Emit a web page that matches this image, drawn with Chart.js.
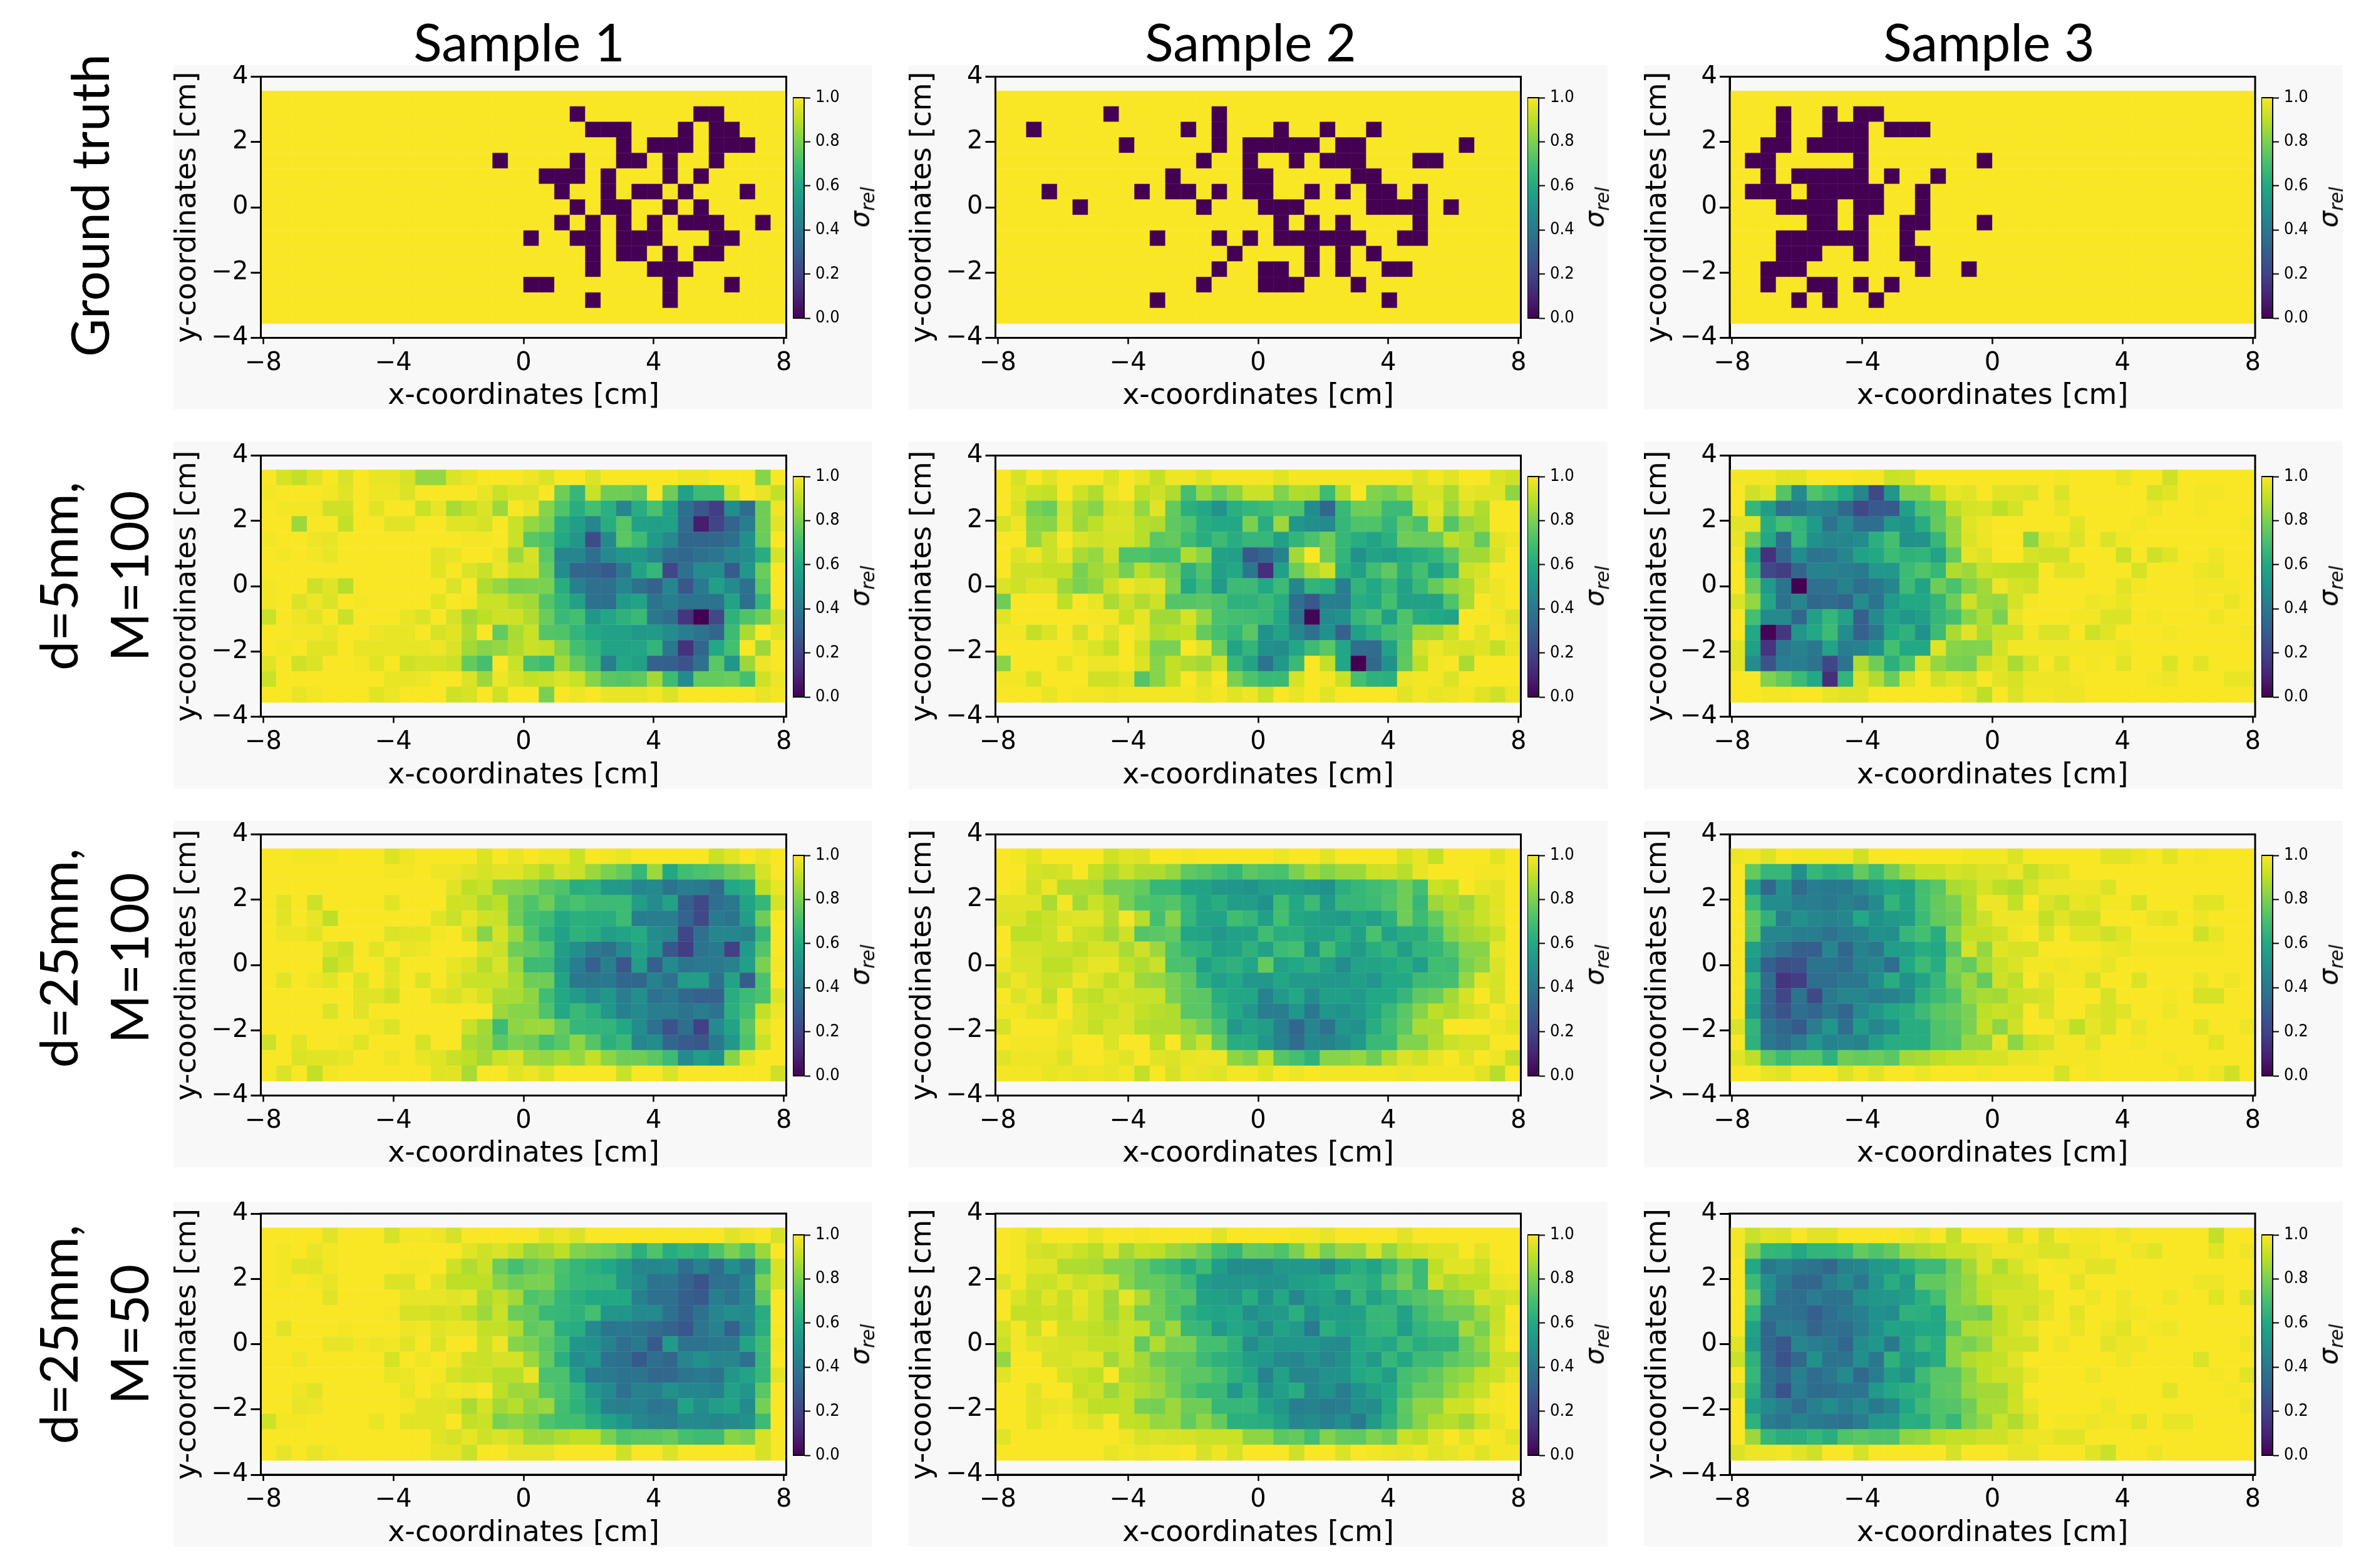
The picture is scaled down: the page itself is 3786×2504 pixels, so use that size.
<!DOCTYPE html>
<html>
<head>
<meta charset="utf-8">
<title>Samples</title>
<script src="https://cdn.jsdelivr.net/npm/chart.js@4"></script>
<style>
  html, body { margin: 0; padding: 0; background: #fff; }
  #page { position: relative; width: 3786px; height: 2504px; overflow: hidden; }
  .panel { position: absolute; background: #f8f8f8; }
  canvas { position: absolute; }
  .txt { position: absolute; white-space: pre; text-align: center; color: #000; transform: translate(-50%, -50%); }
  .rot { transform: translate(-50%, -50%) rotate(-90deg); }
</style>
</head>
<body>
<div id="page"></div>
<script>
// textos
const colTitles = ['Sample 1', 'Sample 2', 'Sample 3'];
const rowTitles = ['Ground truth', 'd=5mm,\nM=100', 'd=25mm,\nM=100', 'd=25mm,\nM=50'];
const xLabel = 'x-coordinates [cm]';
const yLabel = 'y-coordinates [cm]';

// eixos
const xTicks = [-8, -4, 0, 4, 8];
const yTicks = [-4, -2, 0, 2, 4];
const cbarTicks = [0, 0.2, 0.4, 0.6, 0.8, 1];

// viridis
const viridis = ['#440154', '#482475', '#414487', '#355f8d', '#2a788e', '#21918c', '#22a884', '#44bf70', '#7ad151', '#bddf26', '#f9e725'];

// ground truth: for each row (top to bottom), the columns with sigma = 0
const truth1 = [[], [20, 28, 29], [21, 22, 23, 27, 29, 30], [23, 25, 26, 27, 29, 30, 31], [15, 20, 23, 24, 26, 29], [18, 19, 20, 22, 26, 28], [19, 22, 24, 25, 27, 31], [20, 22, 23, 26, 28], [19, 21, 23, 25, 27, 28, 29, 32], [17, 20, 21, 23, 24, 25, 29, 30], [21, 23, 24, 26, 28, 29], [21, 25, 26, 27], [17, 18, 26, 30], [21, 26], []];
const truth2 = [[], [7, 14], [2, 12, 14, 18, 21, 24], [8, 14, 16, 17, 18, 19, 20, 22, 23, 30], [13, 16, 19, 21, 22, 23, 27, 28], [11, 16, 17, 23, 24], [3, 9, 11, 12, 14, 16, 17, 20, 22, 24, 25, 27], [5, 13, 17, 18, 19, 24, 25, 26, 27, 29], [18, 20, 22, 27], [10, 14, 16, 18, 19, 20, 21, 22, 23, 26, 27], [15, 20, 22, 24], [14, 17, 18, 20, 22, 25, 26], [13, 17, 18, 19, 23], [10, 25], []];
const truth3 = [[], [3, 6, 8, 9], [3, 6, 7, 8, 10, 11, 12], [2, 3, 5, 6, 7, 8], [1, 2, 8, 16], [2, 4, 5, 6, 7, 8, 10, 13], [1, 2, 3, 5, 6, 7, 8, 9, 12], [3, 4, 5, 6, 8, 9, 12], [5, 6, 8, 11, 12, 16], [3, 4, 5, 6, 7, 8, 11], [3, 4, 5, 8, 11, 12], [2, 3, 4, 12, 15], [2, 5, 6, 8, 10], [4, 6, 9], []];

// sigma_rel em % por linha (de cima para baixo), 34 colunas
const d5M100s1 = [
  [100,94,91,96,100,95,100,97,97,94,84,84,95,97,100,100,100,98,95,100,100,95,100,100,100,100,100,98,98,100,100,100,82,100],
  [99,100,100,100,99,96,100,98,98,95,100,100,100,100,97,92,95,95,100,78,66,92,78,78,75,100,78,57,68,68,93,100,97,91],
  [100,99,99,99,93,93,100,96,100,100,92,97,87,91,95,85,100,97,82,72,62,70,63,45,62,71,58,36,27,18,48,35,78,98],
  [100,100,85,100,100,91,100,100,96,96,100,100,96,96,94,100,92,84,80,62,55,45,62,73,57,56,57,35,8,20,32,42,78,96],
  [99,100,100,98,97,100,100,100,100,100,100,100,100,99,99,100,92,74,71,60,52,23,47,74,68,54,47,33,33,33,36,49,77,100],
  [100,99,100,99,97,100,100,100,100,100,100,96,97,100,100,97,85,94,74,46,46,36,47,52,52,45,35,33,37,39,45,48,62,94],
  [100,100,100,100,100,100,100,100,100,100,100,96,100,95,92,98,92,93,77,48,33,32,28,40,58,66,21,37,48,48,29,52,77,100],
  [99,100,100,93,96,89,100,100,100,100,100,100,95,100,88,84,79,80,80,62,43,37,37,45,37,31,46,27,41,56,47,37,74,100],
  [99,100,95,98,95,100,99,100,100,100,100,96,100,99,92,92,88,86,73,65,57,37,36,54,58,38,42,38,38,38,58,36,65,100],
  [92,100,98,96,100,92,100,100,100,97,95,100,94,86,90,93,93,88,77,67,70,52,59,64,67,40,35,15,0,22,64,72,78,93],
  [100,100,99,99,97,100,100,98,97,97,100,94,96,88,100,76,87,92,73,72,65,60,57,57,53,54,48,42,38,33,68,87,100,96],
  [100,99,100,96,96,100,97,97,97,97,97,98,95,86,82,84,88,92,91,81,70,65,58,58,59,65,40,14,33,60,70,100,85,100],
  [96,100,93,95,100,100,99,96,100,93,94,94,92,76,70,100,92,71,68,86,76,68,42,60,56,31,30,26,37,74,52,85,98,100],
  [92,100,100,100,100,100,100,100,97,97,98,100,100,95,85,98,94,91,92,95,92,82,74,73,75,86,68,47,76,76,77,70,93,98],
  [100,100,97,99,100,100,100,96,98,100,100,100,93,94,100,93,100,100,80,100,98,100,97,97,97,99,95,100,100,100,100,100,97,99]
];
const d5M100s2 = [
  [100,94,100,96,100,100,100,95,100,97,91,98,98,95,99,99,99,99,96,99,99,99,99,99,99,99,99,95,99,96,100,100,95,93],
  [100,96,92,91,100,93,88,97,100,90,93,88,70,84,77,83,92,92,81,88,87,68,88,100,81,79,84,94,94,87,97,96,96,83],
  [100,94,80,77,94,86,82,93,94,84,96,76,63,60,51,63,66,68,72,72,48,33,67,78,78,68,68,91,96,84,94,88,100,100],
  [94,98,83,82,95,85,90,95,95,89,88,75,72,62,60,60,80,62,85,52,49,47,66,72,72,65,76,71,93,73,84,87,100,100],
  [100,100,84,92,100,95,93,94,94,89,74,76,68,62,68,62,66,66,56,65,71,78,66,62,58,63,78,77,77,90,87,76,96,98],
  [100,95,98,92,97,87,84,93,72,72,69,69,88,82,57,56,28,33,44,86,100,78,65,50,58,55,60,62,65,74,86,86,94,100],
  [100,93,93,91,91,80,86,88,79,90,84,79,64,72,56,60,40,13,56,77,87,93,63,56,69,75,62,70,57,66,92,94,100,100],
  [95,93,96,96,85,80,83,93,98,95,96,81,60,69,54,68,68,60,68,46,65,63,42,65,60,67,57,67,76,84,87,96,98,100],
  [78,100,100,100,90,100,97,87,93,88,93,73,73,74,72,64,64,67,62,36,27,43,42,62,60,70,57,57,57,72,87,100,98,100],
  [96,100,100,100,100,100,99,99,91,97,86,86,94,84,71,70,69,67,60,38,1,47,50,66,71,56,72,62,60,58,100,100,99,95],
  [99,99,91,95,100,93,100,95,100,97,88,90,91,76,70,65,74,50,58,45,37,50,31,56,63,70,72,86,86,92,100,96,100,98],
  [100,100,100,100,100,98,95,91,100,93,80,80,100,96,77,58,65,50,48,59,68,74,59,36,35,57,74,94,98,95,94,96,91,97],
  [82,100,100,100,96,100,98,98,100,95,82,91,88,86,93,66,58,38,53,67,100,91,59,0,34,50,75,90,99,100,87,100,100,100],
  [99,99,94,100,100,100,93,93,96,73,82,91,100,95,100,80,72,67,67,94,100,99,92,70,64,63,98,99,99,95,100,100,100,100],
  [100,100,100,97,100,99,99,98,99,99,99,99,99,97,99,96,98,92,100,97,100,96,100,100,100,100,96,99,97,98,99,96,93,98]
];
const d5M100s3 = [
  [99,99,99,96,96,100,100,100,99,99,92,93,100,100,100,100,100,100,100,100,100,99,100,100,100,97,100,100,93,100,100,100,100,100],
  [100,93,96,73,47,72,67,60,45,22,52,80,80,91,97,96,100,96,96,95,100,95,100,100,100,100,100,94,96,100,99,99,100,100],
  [100,66,55,36,40,45,44,34,22,28,28,56,72,75,90,94,95,90,94,100,100,97,100,100,100,100,100,98,100,100,99,100,100,100],
  [96,96,62,70,65,54,38,47,36,36,53,50,62,76,84,96,98,100,100,100,100,100,96,100,100,100,99,100,100,100,100,100,100,99],
  [97,78,60,35,66,50,46,46,48,63,70,50,51,66,84,95,98,100,100,83,96,98,95,100,95,99,100,100,100,100,100,100,100,100],
  [99,60,14,33,48,38,39,46,57,60,68,64,65,58,76,97,95,100,100,94,93,93,100,100,100,92,100,93,96,100,100,98,100,100],
  [100,67,22,18,33,44,44,42,41,53,53,68,72,66,88,85,92,91,90,90,100,96,96,100,100,100,94,100,100,100,98,97,100,100],
  [100,77,54,38,0,37,37,44,36,40,46,68,58,78,71,81,86,98,94,93,100,100,100,100,100,96,99,100,100,100,99,99,99,100],
  [95,84,59,37,46,33,35,32,48,38,54,60,60,65,78,93,85,84,94,99,100,100,100,98,99,97,100,100,100,100,99,100,97,100],
  [100,70,47,47,33,56,66,57,30,47,58,52,56,66,70,82,88,80,97,100,100,100,99,99,95,95,100,99,100,100,100,98,100,100],
  [100,60,1,16,52,60,68,48,31,40,60,64,50,68,87,96,87,92,92,99,95,95,100,93,96,100,100,100,99,100,100,100,100,99],
  [96,56,15,40,44,40,58,42,44,50,70,60,60,96,82,81,81,94,99,99,99,99,99,99,99,98,100,100,100,100,100,100,100,100],
  [96,48,26,42,42,38,21,38,88,78,63,72,95,84,80,79,93,96,87,94,100,95,100,99,100,96,100,100,95,100,96,100,100,100],
  [100,100,81,76,68,60,13,65,95,88,77,95,100,93,96,94,100,96,94,98,98,98,99,100,100,100,100,99,98,100,100,100,97,97],
  [100,100,99,99,100,100,97,96,96,100,100,100,100,100,100,97,90,100,95,99,99,98,98,100,100,100,100,100,100,100,100,100,100,100]
];
const d25M100s1 = [
  [100,100,99,99,99,100,100,100,95,98,100,100,100,100,95,100,97,100,98,98,92,100,99,97,100,100,100,100,100,92,96,100,97,100],
  [100,100,100,100,100,100,100,100,99,99,100,98,98,96,94,96,96,92,88,94,92,85,80,76,66,85,60,69,71,73,78,81,94,100],
  [100,100,100,100,100,100,100,100,100,100,100,100,96,90,92,83,82,80,74,72,62,63,54,53,46,47,38,42,41,35,60,62,90,97],
  [100,96,100,93,100,100,100,100,96,100,100,100,93,93,87,90,78,72,78,68,71,68,68,68,55,48,57,30,22,36,40,58,66,94],
  [100,96,100,97,90,100,100,100,100,100,100,96,92,97,93,92,78,70,68,60,63,62,62,68,42,42,42,32,22,41,38,55,78,100],
  [100,98,98,96,100,100,100,100,95,96,96,99,100,94,82,94,85,72,64,57,64,62,55,58,61,48,45,21,37,46,46,44,66,100],
  [100,100,100,100,95,92,100,96,100,97,98,100,100,100,94,92,78,76,72,55,49,41,37,47,58,50,27,18,38,41,19,54,73,100],
  [100,100,100,100,90,94,100,100,95,100,100,100,97,95,89,95,84,68,68,53,42,31,43,27,55,30,47,39,41,41,44,56,80,99],
  [100,96,100,98,96,100,95,100,96,100,95,100,96,92,92,92,87,78,78,58,40,40,40,33,33,44,37,55,55,37,58,29,71,100],
  [100,100,100,100,100,100,96,96,93,100,100,96,94,97,94,87,87,83,69,60,54,47,52,42,49,37,41,34,31,31,62,68,71,95],
  [100,100,100,100,95,100,96,100,100,100,100,100,100,100,100,85,82,82,72,60,67,63,53,43,47,42,42,38,42,38,63,70,91,98],
  [100,100,100,100,100,100,100,98,95,100,100,100,100,92,86,68,83,85,85,76,66,65,65,60,48,37,25,36,19,47,58,74,96,100],
  [93,100,96,100,100,99,96,100,100,100,94,100,100,87,85,74,80,78,70,74,83,73,63,67,46,48,33,29,27,40,53,72,92,100],
  [100,100,95,96,96,97,100,100,98,100,97,96,92,90,86,92,94,85,84,87,84,91,83,78,78,74,68,47,55,50,82,96,100,100],
  [100,95,100,91,99,100,100,100,100,100,100,96,96,87,100,100,96,98,95,100,100,100,100,92,100,100,95,100,100,100,100,100,100,93]
];
const d25M100s2 = [
  [100,99,96,100,100,100,100,93,96,95,100,100,99,100,100,100,100,100,98,100,100,96,100,100,100,100,94,97,91,100,100,100,96,100],
  [100,100,94,93,94,100,91,87,92,88,88,84,75,73,70,66,74,72,71,80,86,82,85,85,92,93,89,97,100,100,100,99,99,100],
  [100,99,93,98,88,88,87,79,79,76,66,66,58,58,53,52,51,55,56,56,53,50,63,66,69,71,78,70,92,90,100,97,96,100],
  [96,96,96,87,99,86,92,88,79,72,71,73,66,58,62,55,55,50,69,60,68,54,66,66,68,72,78,66,85,88,85,92,96,100],
  [95,95,90,92,95,96,96,88,99,89,70,82,66,58,58,69,66,56,70,60,58,55,54,60,56,63,78,68,76,85,88,92,96,100],
  [100,90,90,92,98,92,91,86,93,73,74,76,59,58,53,57,57,69,62,63,58,58,63,56,71,57,62,62,70,82,86,88,92,100],
  [100,94,94,92,92,90,94,94,87,93,85,72,65,64,56,58,64,57,68,70,52,69,59,54,62,65,55,65,66,72,82,82,97,100],
  [98,95,95,90,90,94,97,97,91,88,92,71,71,56,62,64,59,76,57,60,63,56,48,58,58,60,63,55,69,68,80,84,95,100],
  [94,98,95,92,93,98,95,90,95,85,84,80,75,63,56,60,53,53,59,54,54,53,53,56,52,60,60,68,69,70,84,96,94,100],
  [100,95,98,90,100,92,90,94,93,92,92,80,75,74,62,59,59,44,54,60,48,56,56,54,60,60,66,75,77,86,94,100,94,100],
  [99,99,96,95,100,95,92,92,95,91,89,88,74,74,65,60,53,42,42,52,40,52,50,54,60,67,74,82,90,88,92,95,100,97],
  [94,100,100,100,97,95,91,95,95,89,88,88,84,79,71,53,58,55,43,33,45,38,52,50,62,69,75,87,87,100,100,100,98,96],
  [100,99,99,99,97,100,100,95,100,100,90,100,86,93,76,62,62,52,44,35,46,44,48,54,67,67,81,81,88,92,94,94,100,100],
  [96,98,98,98,95,100,100,98,96,100,96,95,97,98,98,83,80,91,73,70,64,82,82,84,78,88,95,93,97,100,96,100,98,91],
  [99,99,99,97,98,97,98,97,99,91,100,94,98,97,96,99,99,96,100,98,100,99,99,99,99,99,98,99,99,99,99,96,89,100]
];
const d25M100s3 = [
  [98,99,95,100,99,99,99,99,93,100,100,100,100,100,100,99,99,99,95,100,100,100,100,100,96,96,98,100,96,100,99,100,100,100],
  [100,76,66,66,49,66,62,64,76,68,78,86,91,91,94,93,95,95,98,91,95,96,100,100,100,100,100,100,100,100,100,100,100,100],
  [100,56,34,50,35,42,41,41,47,54,59,57,70,74,87,89,94,90,88,94,98,98,98,98,95,100,100,100,100,100,100,100,100,100],
  [100,68,48,48,42,42,40,44,41,47,65,57,70,76,80,88,98,98,91,100,95,92,97,96,99,99,94,100,100,100,96,96,100,100],
  [100,76,64,42,50,46,44,46,60,50,54,55,68,76,78,88,93,98,98,98,91,96,93,93,100,100,100,97,96,100,98,100,100,100],
  [100,75,46,46,42,42,38,42,44,50,49,66,70,62,82,91,91,93,98,100,94,100,96,96,93,96,100,100,100,100,93,97,100,100],
  [100,56,44,37,30,30,46,33,44,40,55,55,62,60,74,94,84,96,94,94,100,100,100,100,98,97,99,99,99,99,99,99,100,100],
  [100,52,30,24,25,38,38,35,44,46,36,60,68,62,80,76,87,92,95,99,99,98,99,99,97,100,100,100,100,100,100,100,100,100],
  [100,64,36,15,18,36,36,40,40,49,62,50,58,66,78,85,76,93,90,100,96,99,99,94,100,100,95,100,100,100,97,100,98,100],
  [100,58,34,21,38,22,41,45,45,42,44,48,63,68,72,84,87,86,92,93,94,100,100,100,94,100,100,100,99,100,94,94,100,100],
  [100,54,33,26,36,33,40,33,47,53,60,62,68,74,76,80,90,92,91,100,95,100,100,96,94,96,100,100,98,100,100,100,100,100],
  [95,65,38,33,28,42,52,36,54,45,50,62,62,72,74,80,91,83,93,100,100,97,90,97,94,100,97,100,100,100,96,100,100,98],
  [100,64,40,35,42,52,44,46,44,55,62,62,62,72,73,84,84,97,83,92,94,99,99,96,100,100,99,100,100,100,100,96,100,100],
  [96,90,74,68,73,73,64,78,76,77,74,86,87,90,92,92,94,94,97,97,99,99,99,99,100,100,100,100,99,100,100,100,100,100],
  [100,100,97,96,100,100,100,95,99,96,100,100,98,100,100,100,99,100,100,100,100,94,100,99,100,100,100,100,100,98,100,98,93,100]
];
const d25M50s1 = [
  [100,100,100,100,96,100,100,100,94,99,99,98,94,100,100,100,100,100,96,98,95,100,100,100,100,100,100,100,100,100,96,98,100,94],
  [100,99,100,97,99,100,100,100,100,100,100,100,100,96,93,95,91,84,86,90,81,79,77,73,63,72,62,65,63,72,80,73,85,100],
  [100,99,96,96,99,100,100,100,100,99,99,100,93,88,92,77,70,75,78,71,66,63,60,53,46,46,47,36,44,36,49,41,70,94],
  [100,99,100,99,97,100,100,100,95,95,100,96,90,90,90,82,78,80,80,70,66,65,65,53,48,38,39,32,25,37,37,46,80,94],
  [100,100,100,100,96,100,100,100,100,97,97,97,96,97,87,91,86,72,74,66,63,60,60,60,43,37,37,30,28,42,38,46,75,100],
  [100,100,100,100,100,100,100,100,99,94,94,93,94,90,85,92,77,76,67,66,64,70,52,52,47,47,37,30,37,45,49,47,62,100],
  [100,96,100,100,100,99,100,100,100,98,99,96,97,97,91,91,88,75,77,63,62,47,39,41,38,35,32,27,39,44,31,46,63,100],
  [100,100,100,100,97,97,99,98,99,96,100,95,100,100,92,98,82,80,74,68,52,50,44,36,41,28,54,38,38,40,40,58,68,99],
  [100,100,98,100,100,100,100,100,94,100,98,100,98,93,92,94,94,85,76,63,48,52,38,36,28,36,33,45,50,45,45,37,66,100],
  [100,100,100,100,100,100,100,100,97,98,100,99,94,92,93,89,89,97,71,71,55,41,41,38,38,34,34,39,41,38,52,58,66,96],
  [100,100,98,96,100,100,100,100,100,97,100,97,99,98,100,90,85,86,74,71,65,52,47,37,44,43,50,46,46,43,57,52,74,100],
  [100,100,97,98,100,100,100,100,100,99,96,96,95,87,94,86,89,83,85,70,64,57,44,42,44,39,41,58,48,55,58,47,79,100],
  [93,99,99,100,100,100,100,97,100,96,96,96,100,91,92,80,82,80,72,69,69,63,57,52,46,43,42,47,47,45,47,50,68,100],
  [100,100,100,100,100,100,100,100,100,100,100,96,94,97,93,95,93,85,85,88,90,90,80,72,74,74,76,70,68,68,82,80,94,100],
  [100,97,100,97,99,100,100,100,100,100,100,97,97,92,100,100,97,97,97,100,100,100,100,93,100,100,95,100,100,100,100,100,94,100]
];
const d25M50s2 = [
  [100,99,96,100,100,100,97,100,100,99,100,100,100,100,96,100,100,100,100,99,99,97,100,100,100,100,96,100,100,100,100,100,100,100],
  [100,99,94,93,95,92,89,95,86,91,90,85,83,78,70,66,76,75,72,80,89,79,85,84,94,84,91,93,95,95,100,96,100,100],
  [100,99,96,96,88,88,87,81,81,76,70,67,61,68,55,48,48,48,53,53,53,47,57,63,58,66,76,68,90,96,96,92,99,100],
  [95,99,93,92,96,92,94,92,82,76,76,73,68,55,52,52,53,51,51,55,57,60,66,65,62,73,79,68,93,87,90,90,97,98],
  [100,95,91,96,91,97,92,85,97,88,78,72,73,57,56,54,62,50,60,46,56,58,50,66,57,63,70,73,75,83,84,94,92,94],
  [100,91,91,92,91,96,92,85,91,79,79,73,64,60,58,60,49,54,54,63,50,56,55,56,66,66,57,68,73,78,78,85,91,100],
  [94,99,92,100,92,92,90,88,92,91,77,85,67,66,54,60,56,48,58,54,41,63,56,58,65,66,55,65,69,69,86,80,92,99],
  [92,99,96,95,94,94,91,91,92,76,88,80,80,70,70,64,48,55,52,52,52,48,47,60,62,59,68,62,64,64,77,84,94,100],
  [84,100,100,94,94,96,96,86,92,86,78,75,75,68,64,62,55,53,47,46,51,45,50,60,54,66,60,68,68,74,77,80,92,92],
  [96,100,100,100,94,92,90,100,87,86,83,78,74,74,70,64,60,44,57,46,46,51,51,60,62,55,70,72,76,82,84,91,92,97],
  [100,100,96,100,100,91,93,85,91,88,85,79,72,67,67,53,64,50,56,62,46,50,42,50,56,60,70,77,77,84,89,92,99,100],
  [100,100,96,97,98,95,90,90,91,80,79,85,78,78,66,66,66,57,52,42,44,41,42,50,48,61,75,83,83,93,93,98,99,100],
  [100,100,96,99,100,97,95,100,91,90,84,85,76,83,76,63,63,62,56,46,48,44,49,41,54,64,74,82,88,89,85,92,97,100],
  [96,100,100,100,100,100,100,100,98,94,95,94,94,92,92,92,83,83,74,76,69,81,76,75,81,78,92,90,96,100,96,100,99,96],
  [100,100,100,100,100,100,100,97,99,98,99,99,100,94,98,94,100,100,100,93,100,100,95,100,99,98,97,99,96,97,99,96,99,99]
];
const d25M50s3 = [
  [99,92,96,95,100,96,96,100,100,100,100,99,97,100,91,100,100,100,94,100,94,100,99,99,100,98,100,100,100,100,100,91,100,100],
  [99,80,66,65,60,65,65,67,76,72,76,85,87,89,92,92,95,98,98,97,95,95,98,98,100,100,98,96,100,100,100,96,100,98],
  [100,60,40,44,40,38,34,44,46,53,54,61,68,68,78,86,95,88,94,98,100,99,99,96,96,100,100,100,100,100,100,100,100,100],
  [100,68,49,40,33,33,42,47,40,52,62,54,75,75,79,84,91,92,92,94,100,100,96,100,100,100,100,100,100,100,98,98,100,100],
  [100,76,47,36,36,42,38,38,50,52,53,55,63,70,80,84,90,94,94,94,96,100,100,98,100,98,100,100,98,100,100,96,100,95],
  [100,66,38,38,36,30,36,41,43,50,48,64,63,60,80,80,78,90,94,92,97,100,96,100,100,98,99,100,100,100,100,100,100,100],
  [100,57,33,42,41,32,37,36,42,50,58,56,60,60,74,87,87,90,94,97,100,100,97,100,98,96,100,99,98,100,100,100,100,100],
  [96,54,33,27,45,42,40,33,48,52,40,57,66,62,82,80,84,93,93,93,100,98,100,100,96,98,98,100,100,100,100,100,100,98],
  [92,64,35,26,34,50,38,38,49,40,64,54,56,62,82,88,90,91,96,100,100,100,100,100,100,98,100,100,100,100,95,100,100,100],
  [100,66,38,33,43,35,40,47,34,42,55,50,68,74,74,83,90,93,93,97,100,100,100,98,100,100,100,100,100,100,100,99,100,96],
  [95,62,38,26,42,35,36,39,39,53,60,63,64,74,75,84,86,86,92,100,100,100,100,100,100,100,100,100,96,100,100,100,99,100],
  [100,55,47,42,35,43,48,42,47,40,46,59,68,72,73,78,87,87,93,97,100,100,100,100,98,100,100,100,100,100,100,100,100,98],
  [100,64,42,38,44,41,39,37,42,52,52,63,62,72,66,80,84,92,88,94,100,99,99,98,99,99,96,100,97,97,100,100,100,100],
  [100,85,66,62,62,66,62,72,74,72,72,83,84,89,91,91,93,93,96,98,98,96,96,100,100,100,100,100,100,100,100,100,100,100],
  [95,98,98,99,96,93,100,100,94,100,100,100,100,100,94,100,100,100,97,97,100,100,100,96,92,100,100,98,100,100,100,100,100,100]
];

const panels = [
  [truth1, truth2, truth3],
  [d5M100s1, d5M100s2, d5M100s3],
  [d25M100s1, d25M100s2, d25M100s3],
  [d25M50s1, d25M50s2, d25M50s3]
];

// malha: 34 x 15 celulas de 0.475 cm
const nCols = 34;
const nRows = 15;
const cell = 0.475;
const xMax = nCols * cell / 2;
const yMax = nRows * cell / 2;

// layout da pagina
const colLeft = [277, 1451, 2625];
const panelW = 1116;
const rowTop = [104, 705, 1311, 1919];
const rowBottom = [654, 1260, 1864, 2470];
const axLeft = [416.5, 1589.5, 2762];
const axTop = [122.5, 727.5, 1332.5, 1938];
const axW = 839;
const axH = 417;

const tickFont = { family: '"DejaVu Sans"', size: 40 };
const xLabelFont = { family: '"DejaVu Sans"', size: 46, lineHeight: 0.9 };
const yLabelFont = { family: '"DejaVu Sans"', size: 46, lineHeight: 1 };
const page = document.getElementById('page');

function corViridis(v) {
    const t = Math.min(1, Math.max(0, v)) * (viridis.length - 1);
    const i = Math.min(Math.floor(t), viridis.length - 2);
    const a = viridis[i], b = viridis[i + 1], f = t - i;
    const canal = p => Math.round(parseInt(a.substr(p, 2), 16) * (1 - f) + parseInt(b.substr(p, 2), 16) * f);
    return 'rgb(' + canal(1) + ',' + canal(3) + ',' + canal(5) + ')';
}

function montarCelulas(dados) {
    const pontos = [];
    for (let r = 0; r < nRows; r++) {
        for (let c = 0; c < nCols; c++) {
            let v;
            if (dados === truth1 || dados === truth2 || dados === truth3) {
                v = dados[r].includes(c) ? 0 : 1;
            } else {
                v = dados[r][c] / 100;
            }
            pontos.push({ x: -xMax + cell * (c + 0.5), y: yMax - cell * (r + 0.5), v });
        }
    }
    return pontos;
}

const moldura = {
    id: 'moldura',
    afterDraw(chart) {
        const a = chart.chartArea;
        const ctx = chart.ctx;
        ctx.save();
        ctx.strokeStyle = '#000';
        ctx.lineWidth = chart.options.plugins.moldura.width;
        ctx.strokeRect(a.left, a.top, a.right - a.left, a.bottom - a.top);
        ctx.restore();
    }
};

function semPadding(scale) {
    scale.paddingLeft = 0;
    scale.paddingRight = 0;
    scale.paddingTop = 0;
    scale.paddingBottom = 0;
}

function novoCanvas(left, top, w, h) {
    const cv = document.createElement('canvas');
    cv.width = w;
    cv.height = h;
    cv.style.left = left + 'px';
    cv.style.top = top + 'px';
    cv.style.width = w + 'px';
    cv.style.height = h + 'px';
    page.appendChild(cv);
    return cv;
}

function texto(str, cx, cy, css, rot) {
    const d = document.createElement('div');
    d.className = rot ? 'txt rot' : 'txt';
    d.style.cssText = 'left:' + cx + 'px;top:' + cy + 'px;' + css;
    d.innerHTML = str;
    page.appendChild(d);
}

function desenharMapa(row, col) {
    const left = colLeft[col], top = rowTop[row];
    const h = rowBottom[row] - top;
    const fundo = document.createElement('div');
    fundo.className = 'panel';
    fundo.style.cssText = 'left:' + left + 'px;top:' + top + 'px;width:' + panelW + 'px;height:' + h + 'px';
    page.appendChild(fundo);

    const gutterL = axLeft[col] - left;
    const gutterB = rowBottom[row] - (axTop[row] + axH);
    const pontos = montarCelulas(panels[row][col]);
    const cores = pontos.map(p => corViridis(p.v));

    new Chart(novoCanvas(left, top, panelW, h), {
        type: 'scatter',
        data: {
            datasets: [{
                data: pontos,
                pointStyle: 'rect',
                pointBackgroundColor: cores,
                pointBorderColor: cores,
                pointBorderWidth: 0.6,
                pointRadius: ctx => {
                    const x = ctx.chart.scales.x;
                    return (x.getPixelForValue(cell) - x.getPixelForValue(0)) / 2 * Math.SQRT2;
                }
            }]
        },
        options: {
            responsive: false,
            animation: false,
            events: [],
            layout: { padding: { top: axTop[row] - top, right: left + panelW - axLeft[col] - axW, left: 0, bottom: 0 } },
            plugins: { legend: { display: false }, tooltip: { enabled: false }, moldura: { width: 3 } },
            scales: {
                x: {
                    type: 'linear',
                    min: -xMax,
                    max: xMax,
                    afterBuildTicks: s => { s.ticks = xTicks.map(v => ({ value: v })); },
                    afterFit: s => { s.height = gutterB; semPadding(s); },
                    grid: { drawOnChartArea: false, tickLength: 10, tickWidth: 2.5, tickColor: '#000' },
                    border: { color: '#000', width: 3 },
                    ticks: {
                        color: '#000',
                        font: tickFont,
                        maxRotation: 0,
                        autoSkip: false,
                        padding: 7,
                        callback: v => String(v).replace('-', '\u2212')
                    },
                    title: { display: true, text: xLabel, color: '#000', font: xLabelFont, padding: { top: 0, bottom: 0 } }
                },
                y: {
                    type: 'linear',
                    min: -4,
                    max: 4,
                    afterBuildTicks: s => { s.ticks = yTicks.map(v => ({ value: v })); },
                    afterFit: s => { s.width = gutterL; semPadding(s); },
                    grid: { drawOnChartArea: false, tickLength: 16, tickWidth: 3, tickColor: '#000' },
                    border: { color: '#000', width: 3 },
                    ticks: {
                        color: '#000',
                        font: tickFont,
                        autoSkip: false,
                        padding: 4,
                        callback: v => String(v).replace('-', '\u2212')
                    },
                    title: { display: true, text: yLabel, color: '#000', font: yLabelFont, padding: { top: 0, bottom: 0 } }
                }
            }
        },
        plugins: [moldura]
    });

    desenharBarra(axLeft[col] + axW + 10, axTop[row] + 33.5);
    texto('<i>σ<sub style="font-size:70%">rel</sub></i>', axLeft[col] + axW + 121, axTop[row] + axH / 2,
        'font-family:"DejaVu Sans";font-size:42px;line-height:1;', true);
}

function desenharBarra(left, top) {
    const margem = 20;
    new Chart(novoCanvas(left, top - margem, 100, 352 + 2 * margem), {
        type: 'bar',
        data: {
            labels: [''],
            datasets: [{
                data: [[0, 1]],
                borderSkipped: false,
                barPercentage: 1,
                categoryPercentage: 1,
                backgroundColor: ctx => {
                    const a = ctx.chart.chartArea;
                    if (!a) {
                        return viridis[5];
                    }
                    const g = ctx.chart.ctx.createLinearGradient(0, a.bottom, 0, a.top);
                    viridis.forEach((c, i) => g.addColorStop(i / (viridis.length - 1), c));
                    return g;
                }
            }]
        },
        options: {
            responsive: false,
            animation: false,
            events: [],
            layout: { padding: { top: margem, bottom: margem, left: 0, right: 0 } },
            plugins: { legend: { display: false }, tooltip: { enabled: false }, moldura: { width: 2 } },
            scales: {
                x: { display: false },
                y: {
                    position: 'right',
                    min: 0,
                    max: 1,
                    afterBuildTicks: s => { s.ticks = cbarTicks.map(v => ({ value: v })); },
                    afterFit: s => { s.width = 82; semPadding(s); },
                    grid: { drawOnChartArea: false, tickLength: 10, tickWidth: 2, tickColor: '#000' },
                    border: { color: '#000', width: 2 },
                    ticks: {
                        color: '#000',
                        font: { family: '"DejaVu Sans Condensed", "DejaVu Sans"', size: 27 },
                        autoSkip: false,
                        padding: 8,
                        callback: v => v.toFixed(1)
                    }
                }
            }
        },
        plugins: [moldura]
    });
}

for (let r = 0; r < panels.length; r++) {
    for (let c = 0; c < colTitles.length; c++) {
        desenharMapa(r, c);
    }
}

const tituloFonte = 'font-family:Lato;font-size:84px;line-height:1.2;';
texto(colTitles[0], 829, 66, tituloFonte, false);
texto(colTitles[1], 1997, 66, tituloFonte, false);
texto(colTitles[2], 3176, 66, tituloFonte, false);

const rotuloCy = [328, 920, 1530, 2131];
const rotuloCx = [141, 148, 148, 148];
rowTitles.forEach((t, i) => {
    texto(t, rotuloCx[i], rotuloCy[i], 'font-family:Lato;font-size:84px;line-height:113px;', true);
});
</script>
</body>
</html>
